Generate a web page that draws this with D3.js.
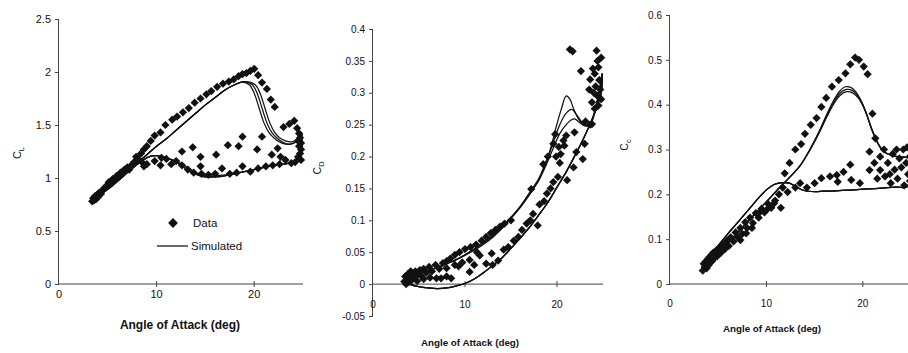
<!DOCTYPE html>
<html>
<head>
<meta charset="utf-8">
<script src="https://cdn.jsdelivr.net/npm/d3@7"></script>
<style>
  html, body { margin: 0; padding: 0; background: #fff; }
  svg { display: block; font-family: "Liberation Sans", Arial, Helvetica, sans-serif; }
</style>
</head>
<body>
<svg id="chart" width="908" height="353"></svg>
<script>
// Angle of attack axis ticks (deg)
const alphaTicks = [0, 10, 20];
const clTicks = [0, 0.5, 1, 1.5, 2, 2.5];
const cdTicks = [-0.05, 0, 0.05, 0.1, 0.15, 0.2, 0.25, 0.3, 0.35, 0.4];
const ccTicks = [0, 0.1, 0.2, 0.3, 0.4, 0.5, 0.6];

// Measured lift coefficient [alpha, CL]
const clData = [
  [3.4,0.78],[3.5,0.81],[3.6,0.79],[3.7,0.83],[3.8,0.8],[3.9,0.84],[4.0,0.82],[4.1,0.86],[4.3,0.85],[4.4,0.88],
  [4.6,0.9],[4.8,0.92],[5.0,0.93],[5.1,0.96],[5.3,0.95],[5.5,0.99],[5.7,0.98],[5.9,1.02],[6.1,1.01],[6.3,1.05],
  [6.5,1.04],[6.7,1.08],[7.0,1.1],[7.2,1.08],[7.4,1.12],[7.7,1.15],[7.9,1.2],[8.1,1.18],[8.4,1.23],[8.7,1.27],
  [9.0,1.3],[9.4,1.35],[9.8,1.4],[10.4,1.43],[10.9,1.5],[11.6,1.55],[12.1,1.58],[12.7,1.62],[13.3,1.66],[13.9,1.71],
  [14.5,1.75],[15.1,1.79],[15.6,1.82],[16.2,1.86],[16.8,1.89],[17.4,1.91],[17.9,1.93],[18.4,1.96],[18.8,1.98],[19.2,1.99],
  [19.6,2.01],[20.0,2.03],[20.4,1.97],[20.8,1.9],[21.3,1.84],[21.7,1.74],[22.1,1.67],[23.0,1.48],[23.6,1.51],[24.1,1.54],
  [24.4,1.47],[24.6,1.42],[24.7,1.38],[24.8,1.33],[24.6,1.3],[24.8,1.27],[24.7,1.23],[24.5,1.2],[24.8,1.17],[24.5,1.35],
  [24.2,1.15],[23.8,1.14],[23.2,1.17],[22.6,1.13],[21.9,1.12],[21.2,1.11],[20.4,1.09],[19.6,1.06],[18.8,1.11],[18.2,1.05],
  [17.5,1.04],[16.7,1.09],[16.0,1.04],[15.3,1.03],[14.6,1.04],[14.5,1.11],[13.8,1.05],[13.2,1.08],[12.6,1.12],[12.0,1.16],
  [11.5,1.13],[11.0,1.18],[10.5,1.19],[10.4,1.12],[9.8,1.16],[9.0,1.13],[8.7,1.11],[8.5,1.15],
  [12.6,1.25],[13.7,1.29],[14.5,1.2],[16.1,1.22],[17.3,1.31],[18.4,1.3],[18.8,1.39],[20.3,1.27],[20.8,1.39],[21.8,1.22],
  [22.4,1.28],[22.7,1.2]
];

// Simulated lift, three pitching cycles [alpha, CL]
const clSim1 = [
  [3.5,0.79],[5,0.91],[6,0.99],[7,1.06],[8,1.14],[9,1.22],[10,1.3],[11,1.37],[12,1.45],[13,1.53],[14,1.61],[15,1.69],
  [16,1.76],[17,1.83],[18,1.88],[18.8,1.905],[19.5,1.88],[20,1.8],[20.5,1.66],[21,1.52],[21.5,1.43],[22,1.38],[22.6,1.34],
  [23.2,1.32],[23.8,1.32],[24.3,1.34],[24.7,1.38],[24.9,1.33],[24.7,1.22],[24.2,1.16],[23,1.13],[22,1.12],[21,1.1],
  [20,1.08],[19,1.06],[18,1.04],[17,1.02],[16,1.01],[15,1.01],[14.2,1.03],[13.5,1.06],[12.8,1.1],[12,1.15],[11,1.19],
  [10,1.21],[9.2,1.2],[8.5,1.16],[7.5,1.09],[6.5,1.01],[5.5,0.93],[4.5,0.86],[3.5,0.79]
];
const clSim2 = [
  [3.5,0.79],[5,0.91],[6,0.99],[7,1.06],[8,1.14],[9,1.22],[10,1.3],[11,1.37],[12,1.45],[13,1.53],[14,1.61],[15,1.69],
  [16,1.76],[17,1.83],[18,1.88],[18.9,1.91],[19.8,1.88],[20.3,1.8],[20.8,1.66],[21.3,1.52],[21.8,1.43],[22.3,1.38],[22.9,1.34],
  [23.5,1.32],[24,1.33],[24.5,1.36],[24.8,1.4],[24.9,1.33],[24.7,1.22],[24.2,1.16],[23,1.13],[22,1.12],[21,1.1],
  [20,1.08],[19,1.06],[18,1.04],[17,1.03],[16,1.02],[15,1.02],[14.2,1.045],[13.5,1.08],[12.8,1.12],[12,1.16],[11,1.19],
  [10,1.21],[9.2,1.2],[8.5,1.16],[7.5,1.09],[6.5,1.01],[5.5,0.93],[4.5,0.86],[3.5,0.79]
];
const clSim3 = [
  [3.5,0.79],[5,0.91],[6,0.99],[7,1.06],[8,1.14],[9,1.22],[10,1.3],[11,1.37],[12,1.45],[13,1.53],[14,1.61],[15,1.69],
  [16,1.76],[17,1.83],[18,1.88],[19,1.91],[20.1,1.88],[20.6,1.8],[21.1,1.66],[21.6,1.52],[22.1,1.43],[22.6,1.38],[23.2,1.35],
  [23.8,1.34],[24.3,1.36],[24.7,1.4],[24.9,1.42],[24.9,1.33],[24.7,1.22],[24.2,1.16],[23,1.13],[22,1.12],[21,1.1],
  [20,1.08],[19,1.06],[18,1.04],[17,1.02],[16,1.01],[15,1.01],[14.2,1.03],[13.5,1.06],[12.8,1.1],[12,1.15],[11,1.19],
  [10,1.21],[9.2,1.2],[8.5,1.16],[7.5,1.09],[6.5,1.01],[5.5,0.93],[4.5,0.86],[3.5,0.79]
];

// Measured drag coefficient [alpha, CD]
const cdData = [
  [3.4,0.004],[3.5,0.012],[3.6,0.0],[3.7,0.008],[3.8,0.016],[3.9,0.003],[4.0,0.012],[4.1,0.02],[4.2,0.006],[4.3,0.015],
  [4.5,0.01],[4.6,0.02],[4.8,0.005],[4.9,0.016],[5.1,0.022],[5.3,0.012],[5.5,0.024],[5.8,0.018],[6.1,0.027],[6.4,0.02],
  [6.8,0.03],[7.2,0.024],[7.6,0.033],[8.0,0.036],[8.4,0.04],[8.9,0.046],[9.4,0.05],[10.0,0.055],[10.6,0.058],[11.2,0.062],
  [11.8,0.068],[12.3,0.074],[12.8,0.08],[13.3,0.085],[13.8,0.09],[14.3,0.095],[15.0,0.1],
  [5.5,0.008],[6.2,0.01],[6.9,0.009],[7.4,0.009],[8.0,0.012],[8.5,0.009],[8.0,0.025],[8.9,0.03],[9.3,0.028],[9.7,0.034],
  [10.5,0.038],[10.5,0.019],[11.0,0.03],[11.3,0.05],[11.6,0.045],[12.3,0.032],[12.9,0.048],[13.0,0.03],[13.6,0.037],[14.2,0.054],
  [14.7,0.058],[15.3,0.068],[15.8,0.074],[16.2,0.085],[16.7,0.095],[17.1,0.1],[17.9,0.092],[17.4,0.11],[18.1,0.125],[18.6,0.13],
  [18.9,0.142],[19.3,0.15],[19.6,0.16],[20.1,0.168],[21.1,0.163],[21.8,0.183],[22.1,0.207],[22.8,0.196],[23.0,0.22],[23.6,0.25],
  [17.2,0.149],[18.5,0.188],[19.0,0.2],[19.6,0.22],[19.9,0.2],[20.2,0.215],[20.4,0.204],[20.7,0.225],[20.8,0.217],[21.0,0.233],
  [20.3,0.19],[21.9,0.238],[19.8,0.235],
  [21.4,0.368],[21.7,0.365],[24.3,0.366],[24.4,0.35],[22.6,0.334],[23.6,0.321],[23.9,0.338],[24.1,0.33],[24.5,0.34],[24.2,0.31],
  [24.6,0.32],[24.0,0.3],[24.4,0.295],[24.7,0.305],[23.8,0.285],[24.1,0.275],[24.5,0.28],[24.8,0.29],[23.5,0.305],[24.8,0.355],
  [23.8,0.251],[23.1,0.255]
];

// Simulated drag, three pitching cycles [alpha, CD]
const cdSim1 = [
  [3.5,0.006],[4,0.012],[5,0.017],[6,0.021],[7,0.026],[8,0.032],[9,0.038],[10,0.046],[11,0.055],[12,0.065],[13,0.077],
  [14,0.09],[15,0.105],[16,0.122],[17,0.143],[18,0.165],[18.6,0.185],[19.2,0.208],[19.9,0.246],[20.5,0.276],[21,0.295],
  [21.4,0.29],[21.8,0.275],[22.3,0.26],[22.9,0.25],[23.4,0.248],[23.9,0.262],[24.4,0.29],[24.8,0.32],[24.9,0.33],
  [24.8,0.3],[24,0.265],[23,0.232],[22,0.203],[21,0.176],[20,0.152],[19,0.128],[18,0.108],[17,0.089],[16,0.072],[15,0.056],
  [14,0.041],[13,0.029],[12,0.018],[11,0.008],[10,0.001],[9,-0.003],[8,-0.006],[7,-0.007],[6,-0.006],[5,-0.004],[4,0.0],[3.5,0.006]
];
const cdSim2 = [
  [3.5,0.006],[4,0.012],[5,0.017],[6,0.021],[7,0.026],[8,0.032],[9,0.038],[10,0.045],[11,0.053],[12,0.062],[13,0.073],
  [14,0.087],[15,0.103],[16,0.12],[17,0.14],[18,0.163],[18.8,0.19],[19.5,0.218],[20.3,0.25],[21,0.268],[21.6,0.274],
  [22.1,0.266],[22.6,0.256],[23.1,0.249],[23.6,0.25],[24.1,0.268],[24.5,0.293],[24.8,0.318],[24.9,0.33],
  [24.8,0.3],[24,0.265],[23,0.232],[22,0.203],[21,0.176],[20,0.152],[19,0.128],[18,0.108],[17,0.089],[16,0.072],[15,0.056],
  [14,0.041],[13,0.029],[12,0.018],[11,0.008],[10,0.001],[9,-0.003],[8,-0.006],[7,-0.007],[6,-0.006],[5,-0.004],[4,0.0],[3.5,0.006]
];
const cdSim3 = [
  [3.5,0.006],[4,0.012],[5,0.017],[6,0.021],[7,0.026],[8,0.032],[9,0.038],[10,0.046],[11,0.055],[12,0.064],[13,0.075],
  [14,0.088],[15,0.104],[16,0.121],[17,0.141],[18,0.162],[18.8,0.186],[19.5,0.21],[20.3,0.236],[21,0.25],[21.5,0.257],
  [21.9,0.259],[22.4,0.254],[23,0.248],[23.6,0.252],[24.1,0.27],[24.5,0.295],[24.8,0.32],[24.9,0.33],
  [24.8,0.3],[24,0.265],[23,0.232],[22,0.203],[21,0.176],[20,0.152],[19,0.128],[18,0.108],[17,0.089],[16,0.072],[15,0.056],
  [14,0.041],[13,0.029],[12,0.018],[11,0.008],[10,0.001],[9,-0.003],[8,-0.006],[7,-0.007],[6,-0.006],[5,-0.004],[4,0.0],[3.5,0.006]
];

// Measured chordwise force coefficient [alpha, Cc]
const ccData = [
  [3.4,0.03],[3.5,0.045],[3.6,0.038],[3.7,0.05],[3.8,0.035],[3.9,0.055],[4.0,0.042],[4.1,0.06],[4.2,0.048],[4.3,0.065],
  [4.4,0.052],[4.5,0.07],[4.6,0.058],[4.8,0.075],[4.9,0.062],[5.1,0.08],[5.3,0.07],[5.5,0.088],[5.7,0.078],[5.9,0.096],
  [6.1,0.085],[6.3,0.104],[6.6,0.095],[6.8,0.115],[7.0,0.105],[7.3,0.125],[7.5,0.112],[7.8,0.138],[8.0,0.125],[8.3,0.148],
  [8.6,0.136],[8.9,0.158],[9.2,0.148],[9.5,0.168],[9.8,0.16],[10.2,0.178],[10.5,0.17],[10.9,0.186],[11.3,0.2],[11.7,0.215],
  [11.9,0.247],[12.4,0.27],[13.0,0.3],[13.6,0.312],[14.0,0.335],[14.6,0.355],[15.2,0.37],[15.7,0.395],[16.2,0.415],[16.8,0.44],
  [17.5,0.455],[18.2,0.47],[18.7,0.49],[19.2,0.505],[19.6,0.5],[20.1,0.485],[20.5,0.468],[21.0,0.38],[21.3,0.325],
  [7.3,0.098],[7.9,0.113],[8.5,0.125],[9.3,0.16],[10.0,0.165],[10.8,0.18],[11.5,0.17],[12.2,0.205],[13.0,0.215],[13.5,0.225],
  [14.2,0.215],[15.0,0.225],[15.7,0.236],[16.6,0.24],[17.3,0.243],[17.4,0.228],[18.0,0.25],[18.7,0.266],[18.8,0.232],[19.7,0.225],
  [20.7,0.254],[20.7,0.295],[21.2,0.27],[21.8,0.284],[21.8,0.254],[22.2,0.3],[22.3,0.24],[22.6,0.27],[22.9,0.225],[23.1,0.29],
  [23.3,0.255],[23.6,0.235],[23.8,0.28],[24.0,0.26],[24.2,0.3],[24.3,0.22],[24.5,0.27],[24.7,0.245],[24.9,0.285],[24.9,0.23],
  [23.5,0.3],[22.8,0.245],[24.6,0.305],[21.5,0.235]
];

// Simulated chordwise force, three pitching cycles [alpha, Cc]
const ccSim1 = [
  [3.5,0.036],[4.5,0.058],[5.5,0.08],[6.5,0.103],[7.5,0.126],[8.5,0.149],[9.5,0.172],[10.5,0.195],[11.5,0.218],[12.5,0.24],
  [13.5,0.264],[14.5,0.3],[15.5,0.342],[16.3,0.38],[17,0.41],[17.6,0.43],[18.2,0.44],[18.8,0.438],[19.3,0.428],[19.8,0.41],
  [20.3,0.385],[20.8,0.352],[21.3,0.325],[21.8,0.305],[22.4,0.292],[23,0.287],[23.6,0.284],[24.2,0.283],[24.8,0.28],
  [24.9,0.24],[24.6,0.217],[23.5,0.216],[22,0.214],[20.5,0.212],[19,0.21],[17.5,0.208],[16,0.207],[15,0.206],[14,0.208],
  [13.2,0.215],[12.4,0.225],[11.6,0.226],[10.8,0.222],[10,0.21],[9.2,0.192],[8.4,0.172],[7.6,0.152],[6.8,0.132],[6,0.112],
  [5.2,0.091],[4.4,0.068],[3.5,0.042]
];
const ccSim2 = [
  [3.5,0.036],[4.5,0.058],[5.5,0.08],[6.5,0.103],[7.5,0.126],[8.5,0.149],[9.5,0.172],[10.5,0.195],[11.5,0.218],[12.5,0.24],
  [13.5,0.264],[14.5,0.298],[15.5,0.338],[16.3,0.374],[17,0.402],[17.6,0.42],[18.3,0.429],[18.9,0.427],[19.5,0.416],[20,0.398],
  [20.5,0.372],[21,0.342],[21.5,0.317],[22,0.3],[22.6,0.29],[23.2,0.286],[23.8,0.284],[24.4,0.283],[24.8,0.28],
  [24.9,0.24],[24.6,0.217],[23.5,0.216],[22,0.214],[20.5,0.212],[19,0.21],[17.5,0.208],[16,0.207],[15,0.206],[14,0.208],
  [13.2,0.215],[12.4,0.225],[11.6,0.226],[10.8,0.222],[10,0.21],[9.2,0.192],[8.4,0.172],[7.6,0.152],[6.8,0.132],[6,0.112],
  [5.2,0.091],[4.4,0.068],[3.5,0.042]
];
const ccSim3 = [
  [3.5,0.036],[4.5,0.058],[5.5,0.08],[6.5,0.103],[7.5,0.126],[8.5,0.149],[9.5,0.172],[10.5,0.195],[11.5,0.218],[12.5,0.24],
  [13.5,0.264],[14.5,0.299],[15.5,0.34],[16.3,0.377],[17,0.406],[17.6,0.425],[18.3,0.434],[18.9,0.432],[19.4,0.422],[19.9,0.404],
  [20.4,0.378],[20.9,0.347],[21.4,0.321],[21.9,0.302],[22.5,0.291],[23.1,0.286],[23.7,0.284],[24.3,0.283],[24.8,0.28],
  [24.9,0.24],[24.6,0.217],[23.5,0.216],[22,0.214],[20.5,0.212],[19,0.21],[17.5,0.208],[16,0.207],[15,0.206],[14,0.208],
  [13.2,0.215],[12.4,0.225],[11.6,0.226],[10.8,0.222],[10,0.21],[9.2,0.192],[8.4,0.172],[7.6,0.152],[6.8,0.132],[6,0.112],
  [5.2,0.091],[4.4,0.068],[3.5,0.042]
];

const svg = d3.select("#chart");
const ink = "#111";
const axisInk = "#444";

// Rotated square marker, as used for the measured points
const diamond = {
  draw(ctx, size) {
    const r = Math.sqrt(size / 2);
    ctx.moveTo(0, -r); ctx.lineTo(r, 0); ctx.lineTo(0, r); ctx.lineTo(-r, 0); ctx.closePath();
  }
};

function drawPanel(p) {
  const x = d3.scaleLinear().domain([0, 25]).range(p.xRange);
  const y = d3.scaleLinear().domain(p.yDomain).range(p.yRange);
  const g = svg.append("g");

  // y axis (ticks pointing outward)
  const yAxis = d3.axisLeft(y).tickValues(p.yTicks).tickSize(4).tickPadding(4)
    .tickFormat(d => (d === 0 ? "0" : String(d)));
  const ya = g.append("g").attr("transform", `translate(${p.xRange[0]},0)`).call(yAxis);
  ya.selectAll("path.domain").attr("stroke", axisInk).attr("d", `M-0.5,${y(p.yDomain[0])}V${y(p.yDomain[1])}`);
  ya.selectAll(".tick line").attr("stroke", axisInk);
  ya.selectAll("text").attr("font-size", p.tickFont).attr("fill", ink);

  // x axis along zero (cross ticks)
  const y0 = y(0);
  const xa = g.append("g").attr("transform", `translate(0,${y0})`);
  xa.append("line").attr("x1", x(0)).attr("x2", x(25)).attr("stroke", axisInk);
  xa.selectAll("line.tk").data(alphaTicks.filter(d => d !== 0)).join("line")
    .attr("class", "tk").attr("x1", d => x(d)).attr("x2", d => x(d))
    .attr("y1", -3).attr("y2", 3).attr("stroke", axisInk);
  g.selectAll("text.xl").data(alphaTicks).join("text").attr("class", "xl")
    .attr("x", d => x(d)).attr("y", p.xLabelY).attr("text-anchor", "middle")
    .attr("font-size", p.tickFont).attr("fill", ink).text(d => d);

  // axis titles
  g.append("text").attr("x", p.titleX).attr("y", p.titleY).attr("text-anchor", "middle")
    .attr("font-size", p.titleFont).attr("font-weight", "bold").attr("fill", ink)
    .text("Angle of Attack (deg)");
  const yl = g.append("text").attr("transform", `translate(${p.yLabelPos[0]},${p.yLabelPos[1]}) rotate(-90)`)
    .attr("text-anchor", "middle").attr("font-size", p.yLabelFont).attr("fill", ink);
  yl.append("tspan").text("C");
  yl.append("tspan").attr("font-size", p.yLabelFont * 0.7).attr("dy", 3).text(p.sub);

  // simulated cycles
  const line = d3.line().x(d => x(d[0])).y(d => y(d[1])).curve(d3.curveCatmullRom.alpha(0.5));
  g.selectAll("path.sim").data(p.sims).join("path").attr("class", "sim")
    .attr("d", line).attr("fill", "none").attr("stroke", ink).attr("stroke-width", 1.25);

  // measured points
  const sym = d3.symbol().type(diamond).size(34);
  g.selectAll("path.pt").data(p.data).join("path").attr("class", "pt")
    .attr("transform", d => `translate(${x(d[0])},${y(d[1])})`)
    .attr("d", sym).attr("fill", ink);
  return { x, y, g };
}

drawPanel({
  xRange: [59, 303], yDomain: [0, 2.5], yRange: [284, 19], yTicks: clTicks,
  tickFont: 11, xLabelY: 298, titleX: 180, titleY: 329, titleFont: 12,
  yLabelPos: [21, 153], yLabelFont: 11, sub: "L",
  sims: [clSim1, clSim2, clSim3], data: clData
});

drawPanel({
  xRange: [373, 603], yDomain: [-0.05, 0.4], yRange: [316, 29], yTicks: cdTicks,
  tickFont: 10, xLabelY: 308, titleX: 470, titleY: 346, titleFont: 9.8,
  yLabelPos: [321, 168], yLabelFont: 10.5, sub: "D",
  sims: [cdSim1, cdSim2, cdSim3], data: cdData
});

drawPanel({
  xRange: [670, 911], yDomain: [0, 0.6], yRange: [284, 15], yTicks: ccTicks,
  tickFont: 10, xLabelY: 307, titleX: 772, titleY: 332, titleFont: 9.8,
  yLabelPos: [628, 145], yLabelFont: 10.5, sub: "c",
  sims: [ccSim1, ccSim2, ccSim3], data: ccData
});

// legend in the lift panel
const lg = svg.append("g").attr("font-size", 11.5).attr("fill", ink);
lg.append("path").attr("transform", "translate(173,223)")
  .attr("d", d3.symbol().type(diamond).size(48)).attr("fill", ink);
lg.append("text").attr("x", 193).attr("y", 227).text("Data");
lg.append("line").attr("x1", 157).attr("x2", 188).attr("y1", 246).attr("y2", 246)
  .attr("stroke", ink).attr("stroke-width", 1.25);
lg.append("text").attr("x", 191).attr("y", 250).text("Simulated");
</script>
</body>
</html>
